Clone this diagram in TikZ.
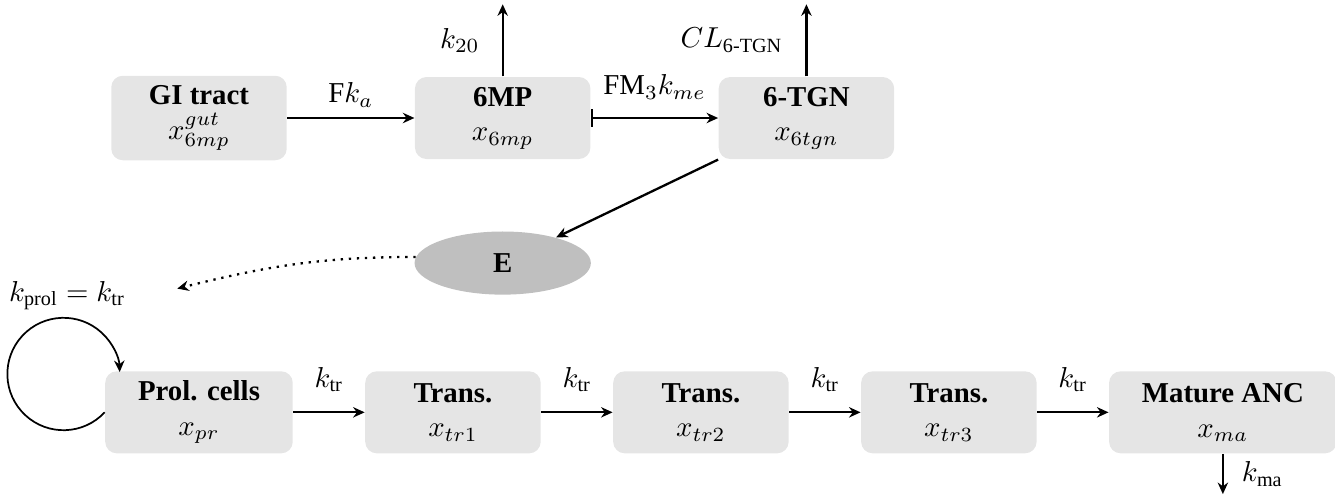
\documentclass[tikz,border=0pt]{standalone}
\usepackage{amsmath}
\usepackage[no-math]{fontspec}
\setmainfont{Liberation Serif}
\usetikzlibrary{positioning}
\usetikzlibrary{shapes.geometric}
\usetikzlibrary{arrows.meta}

\begin{document}
\begin{tikzpicture}[node distance=1.55cm,
    >={Stealth[length=4pt,width=3.6pt]},
    comp/.style={rectangle, rounded corners=4pt, fill=gray!20, align=center,
                 minimum width=2.14cm, minimum height=1cm, inner xsep=4mm},
    effect/.style={ellipse, fill=gray!50, minimum width=2.15cm, minimum height=0.77cm},
    flow/.style={->, thick}]
    \useasboundingbox (-69.05pt,40.95pt) rectangle (394.2pt,-132.9pt);
    % Place nodes
    \node[comp] (gi) {\textbf{GI tract}\\$x^{gut}_{6mp}$};
    \node[comp, right=of gi] (mp) {\textbf{6MP}\\$x_{6mp}$};
    \node[comp, right=of mp] (tgn) {\textbf{6-TGN}\\$x_{6tgn}$};
    \node[effect, below=0.87cm of mp] (eff) {\textbf{E}};
    \node[comp, below=2.56cm of gi] (pr) {\textbf{Prol. cells}\\$x_{pr}$};
    \node[comp, right=0.87cm of pr] (tr1) {\textbf{Trans.}\\$x_{tr1}$};
    \node[comp, right=0.87cm of tr1] (tr2) {\textbf{Trans.}\\$x_{tr2}$};
    \node[comp, right=0.87cm of tr2] (tr3) {\textbf{Trans.}\\$x_{tr3}$};
    \node[comp, right=0.87cm of tr3] (ma) {\textbf{Mature ANC}\\$x_{ma}$};
    \node[above=17.5pt of pr.north west, xshift=-13pt] (kprol) {$k_{\text{prol}} = k_{\text{tr}}$};

    % Free ends
    \coordinate[above=0.88cm of mp.north] (mp out);
    \coordinate[above=0.88cm of tgn.north] (tgn out);
    \coordinate[below=0.49cm of ma.south] (ma out);
    \coordinate (kprol in) at ([xshift=14.5pt,yshift=2.5pt]kprol.east);

    % Connect
    \draw[flow] (gi) -- node[above]{F$k_a$} (mp);
    \draw[flow, |->] (mp) -- node[above=2.8pt]{FM$_3k_{me}$} (tgn);
    \draw[flow] (mp) -- node[left=4.3pt]{$k_{20}$} (mp out);
    \draw[flow] (tgn) -- node[left=4.5pt]{$CL_{\text{6-TGN}}$} (tgn out);
    \draw[flow] (tgn.south west) -- (eff);
    \draw[flow, dotted] (eff.176) to[out=180, in=14] (kprol in);
    \draw[->, semithick] (pr.west) arc[start angle=-43, end angle=-358, radius=19.5pt];
    \draw[flow] (pr) -- node[above=3.3pt]{$k_{\text{tr}}$} (tr1);
    \draw[flow] (tr1) -- node[above=3.3pt]{$k_{\text{tr}}$} (tr2);
    \draw[flow] (tr2) -- node[above=3.3pt]{$k_{\text{tr}}$} (tr3);
    \draw[flow] (tr3) -- node[above=3.3pt]{$k_{\text{tr}}$} (ma);
    \draw[flow] (ma) -- node[right=2.9pt]{$k_{\text{ma}}$} (ma out);
\end{tikzpicture}
\end{document}
